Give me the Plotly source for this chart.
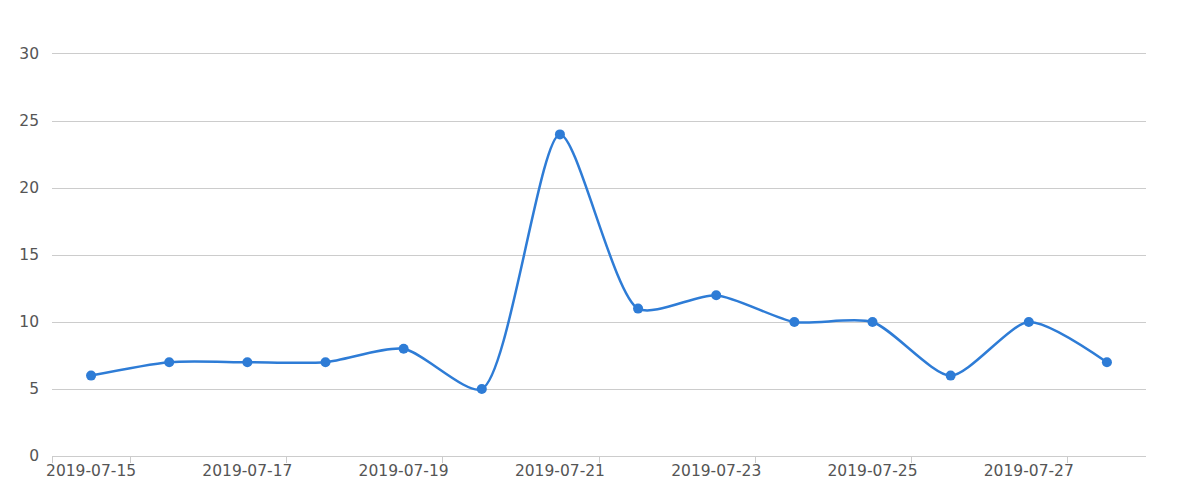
import plotly.graph_objects as go

dates = ["2019-07-15", "2019-07-16", "2019-07-17", "2019-07-18", "2019-07-19",
         "2019-07-20", "2019-07-21", "2019-07-22", "2019-07-23", "2019-07-24",
         "2019-07-25", "2019-07-26", "2019-07-27", "2019-07-28"]
values = [6, 7, 7, 7, 8, 5, 24, 11, 12, 10, 10, 6, 10, 7]

idx = list(range(len(dates)))
label_idx = idx[::2]
label_text = [dates[i] for i in label_idx]
boundary_ticks = [-0.5] + [i + 0.5 for i in idx[::2]]

color = "#2e7cd6"
fig = go.Figure(go.Scatter(
    x=idx, y=values, mode="lines+markers",
    line=dict(color=color, width=2.5, shape="spline", smoothing=0.7),
    marker=dict(color=color, size=10),
))

font = dict(family="DejaVu Sans", size=15.5, color="#555")
fig.update_layout(
    width=1184, height=484,
    margin=dict(l=44, r=46, t=46, b=36),
    paper_bgcolor="white", plot_bgcolor="white",
    showlegend=False,
    font=font,
    xaxis=dict(
        range=[-0.5, len(dates) - 0.5],
        tickmode="array", tickvals=label_idx, ticktext=label_text,
        ticks="", showgrid=False, zeroline=False,
        showline=True, mirror=True, linecolor="#ccc", linewidth=1,
        tickfont=font,
        minor=dict(tickmode="array", tickvals=boundary_ticks, ticks="outside",
                   ticklen=6, tickcolor="#ccc", showgrid=False),
    ),
    yaxis=dict(
        range=[0, 30], dtick=5, tick0=0,
        showgrid=True, gridcolor="#ccc", gridwidth=1,
        zeroline=False, showline=False, ticks="",
        ticklabelstandoff=12, tickfont=font,
    ),
)
fig.write_html("out.html")
